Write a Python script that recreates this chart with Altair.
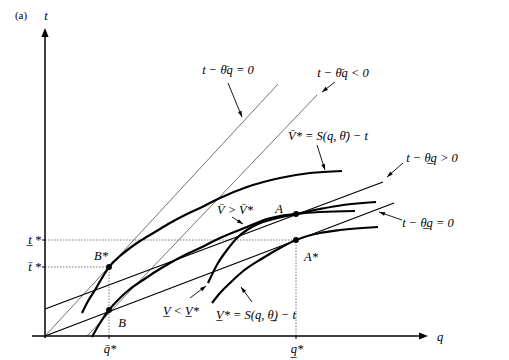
import math
import altair as alt
import pandas as pd

# ---------------- data (q horizontal, t vertical; arbitrary units) ----------------
# iso-profit straight lines: start (q0,t0) -> end (q1,t1)
iso_thin_q0 = [0, 42]        # t - θ̄q = 0 , t - θ̄q < 0
iso_thin_t0 = [0, 0]
iso_thin_q1 = [233, 272]
iso_thin_t1 = [252, 241]

iso_low_q0 = [0, 0]          # t - θ̲q > 0 , t - θ̲q = 0
iso_low_t0 = [27, 0]
iso_low_q1 = [338, 349]
iso_low_t1 = [154, 133]

# indifference curves
vbar_star_q = [37, 42, 50, 57, 64, 75, 85, 95, 110, 125, 140, 155, 175, 202, 235, 265, 297]
vbar_star_t = [23, 33, 46, 58, 69, 80, 88, 95, 104, 113, 121, 128, 138, 149, 158, 163, 165]

vbar_q = [47, 55, 64, 75, 85, 98, 110, 125, 140, 155, 175, 202, 222, 235, 251, 275, 310]
vbar_t = [-1, 13, 26, 38, 47, 56, 64, 73, 81, 88, 98, 109, 117, 120, 122, 124, 125]

vlow_star_q = [167, 175, 185, 197, 218, 235, 251, 275, 295, 333]
vlow_star_t = [33, 43, 53, 64, 78, 88, 96, 103, 106, 109]

vlow_q = [163, 173, 182, 193, 202, 213, 225, 239, 251, 275, 298, 331]
vlow_t = [53, 73, 86, 99, 106, 112, 116, 119.5, 122, 127, 131, 134]

# equilibrium points
pt_names = ["B*", "B", "A", "A*"]
pt_q = [64, 64, 251, 251]
pt_t = [69, 26, 122, 96]

# guide (dotted) lines
dot_q0 = [0, 0, 64, 251]
dot_t0 = [96, 69, 0, 0]
dot_q1 = [251, 64, 64, 251]
dot_t1 = [96, 69, 69, 96]

# annotation arrows: tail (q0,t0) -> head (q1,t1)
arr_q0 = [183, 290, 272, 358, 357, 187, 145, 207]
arr_t0 = [253, 254, 191, 173, 116, 119, 38, 34]
arr_q1 = [197, 277, 280, 342, 334, 198, 161, 196]
arr_t1 = [219, 244, 166, 159, 124, 112, 50, 49]

# labels
lab_text = ["t − θ̄q = 0", "t − θ̄q < 0", "V̄* = S(q, θ̄) − t", "t − θ̲q > 0",
            "t − θ̲q = 0", "V̄ > V̄*", "V̲ < V̲*", "V̲* = S(q, θ̲) − t",
            "B*", "B", "A", "A*", "q̄*", "q̲*", "q", "t"]
lab_q = [183, 298, 283, 387, 383, 190, 136, 211, 56, 77, 234, 266, 65, 252, 395, 1]
lab_t = [266, 263, 200, 178, 113, 126, 25, 21, 80, 13, 127, 79, -13, -13, -1, 320]

ytick_text = ["t̲ *", "t̄ *"]
ytick_t = [96, 69]

# ---------------- build tables ----------------
FONT = "Liberation Serif, Tinos, Times, serif"
XS = alt.Scale(domain=[-45, 464], nice=False, zero=False)
YS = alt.Scale(domain=[-24, 336], nice=False, zero=False)


def X(f="q"):
    return alt.X(f"{f}:Q", scale=XS, axis=None)


def Y(f="t"):
    return alt.Y(f"{f}:Q", scale=YS, axis=None)


def seg_df(q0, t0, q1, t1):
    return pd.DataFrame({"q": q0, "t": t0, "q2": q1, "t2": t1})


def rules(df, **kw):
    return alt.Chart(df).mark_rule(**kw).encode(
        x=X("q"), y=Y("t"), x2="q2:Q", y2="t2:Q")


thin = rules(seg_df(iso_thin_q0, iso_thin_t0, iso_thin_q1, iso_thin_t1),
             color="#444", strokeWidth=0.75)
low = rules(seg_df(iso_low_q0, iso_low_t0, iso_low_q1, iso_low_t1),
            color="black", strokeWidth=1.3)
dots = rules(seg_df(dot_q0, dot_t0, dot_q1, dot_t1),
             color="#555", strokeWidth=0.8, strokeDash=[1.5, 1.5])

# axes
axes = rules(seg_df([0, -13], [-2, 0], [0, 376], [301, 0]), color="black", strokeWidth=1.5)
ticks = rules(seg_df([-3, -3, 64, 251], [96, 69, 0, 0], [0, 0, 64, 251], [96, 69, -3, -3]),
              color="black", strokeWidth=1)

curve_rows = []
for cid, (qs, ts) in enumerate([(vbar_star_q, vbar_star_t), (vbar_q, vbar_t),
                                (vlow_star_q, vlow_star_t), (vlow_q, vlow_t)]):
    for i, (q, t) in enumerate(zip(qs, ts)):
        curve_rows.append({"id": cid, "i": i, "q": q, "t": t})
curves = alt.Chart(pd.DataFrame(curve_rows)).mark_line(
    color="black", strokeWidth=2.2, interpolate="monotone").encode(
    x=X(), y=Y(), detail="id:N", order="i:Q")

points = alt.Chart(pd.DataFrame({"q": pt_q, "t": pt_t, "name": pt_names})).mark_circle(
    color="black", size=34, opacity=1).encode(x=X(), y=Y())

# annotation arrows
arrows = rules(seg_df(arr_q0, arr_t0, arr_q1, arr_t1), color="black", strokeWidth=0.9)


def heads(q0, t0, q1, t1):
    rows = []
    for a, b, c, d in zip(q0, t0, q1, t1):
        ang = math.degrees(math.atan2(c - a, d - b)) % 360
        rows.append({"q": c, "t": d, "ang": ang})
    return pd.DataFrame(rows)


small_head = alt.Chart(heads(arr_q0, arr_t0, arr_q1, arr_t1)).mark_point(
    shape="M0,0L0.65,2L-0.65,2Z", filled=True, color="black", opacity=1,
    size=36, strokeWidth=0).encode(x=X(), y=Y(), angle=alt.Angle("ang:Q", scale=None))

axis_head = alt.Chart(heads([0, 370], [290, 0], [0, 383], [308, 0])).mark_point(
    shape="M0,0L0.8,2L-0.8,2Z", filled=True, color="black", opacity=1,
    size=81, strokeWidth=0).encode(x=X(), y=Y(), angle=alt.Angle("ang:Q", scale=None))

labels = alt.Chart(pd.DataFrame({"q": lab_q, "t": lab_t, "text": lab_text})).mark_text(
    font=FONT, fontStyle="italic", fontSize=12.5, color="black",
    align="center", baseline="middle").encode(x=X(), y=Y(), text="text:N")

ylabels = alt.Chart(pd.DataFrame({"q": [-4, -4], "t": ytick_t, "text": ytick_text})).mark_text(
    font=FONT, fontStyle="italic", fontSize=12.5, color="black",
    align="right", baseline="middle").encode(x=X(), y=Y(), text="text:N")

panel = alt.Chart(pd.DataFrame({"q": [-24], "t": [320], "text": ["(a)"]})).mark_text(
    font=FONT, fontSize=11, color="black",
    align="center", baseline="middle").encode(x=X(), y=Y(), text="text:N")

chart = alt.layer(dots, thin, low, axes, ticks, curves, points, arrows, small_head,
                  axis_head, labels, ylabels, panel).properties(
    width=509, height=360, padding=0,
    autosize=alt.AutoSizeParams(type="none"), background="white"
).configure_view(strokeWidth=0)

chart.save("out.html", embed_options={"renderer": "svg", "actions": False})
